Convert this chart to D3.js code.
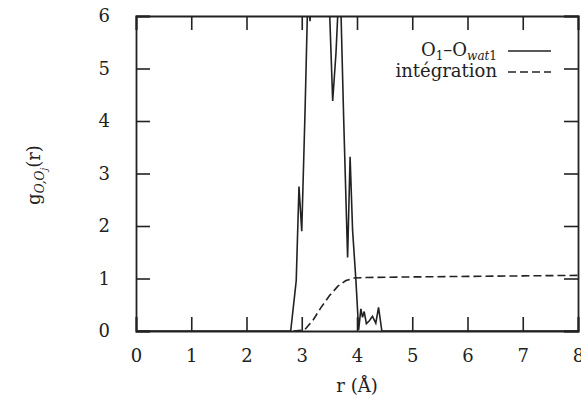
<!DOCTYPE html>
<html>
<head>
<meta charset="utf-8">
<script src="https://cdn.jsdelivr.net/npm/d3@7"></script>
<style>
  body { margin: 0; background: #fff; }
  svg { display: block; }
  svg text { font-family: 'DejaVu Serif', serif; fill: #222; }
</style>
</head>
<body>
<div id="chart"></div>
<script>
// g(r) for O1 - Owat1
const gR = [0, 2.80, 2.90, 2.95, 3.00, 3.06, 3.11, 3.15, 3.19, 3.30, 3.45, 3.50, 3.56, 3.62, 3.69, 3.76, 3.83, 3.875, 3.92, 3.98, 4.03, 4.07, 4.10, 4.13, 4.17, 4.22, 4.28, 4.34, 4.39, 4.45, 8]
const gVal = [0, 0, 0.96, 2.75, 1.90, 4.2, 6.4, 5.9, 6.8, 8.0, 7.2, 6.2, 4.38, 5.3, 6.9, 4.0, 1.40, 3.32, 1.92, 0.97, 0.02, 0.42, 0.26, 0.37, 0.14, 0.19, 0.28, 0.15, 0.45, 0, 0]

// running integral
const intR = [2.85, 3.05, 3.2, 3.35, 3.5, 3.65, 3.8, 3.95, 4.2, 5, 6, 7, 8]
const intVal = [0, 0.02, 0.2, 0.45, 0.67, 0.85, 0.96, 1.01, 1.02, 1.03, 1.04, 1.05, 1.06]

const xTicks = [0, 1, 2, 3, 4, 5, 6, 7, 8]
const yTicks = [0, 1, 2, 3, 4, 5, 6]

const width = 581
const height = 412
const margin = { top: 16, left: 136, right: 3, bottom: 81 }
const ink = '#222'
const serif = "'DejaVu Serif', serif"

const svg = d3
  .select('#chart')
  .append('svg')
  .attr('width', width)
  .attr('height', height)
  .attr('font-family', serif)

const x = d3.scaleLinear().domain([0, 8]).range([margin.left, width - margin.right])
const y = d3.scaleLinear().domain([0, 6]).range([height - margin.bottom, margin.top])

svg
  .append('clipPath')
  .attr('id', 'plot-clip')
  .append('rect')
  .attr('x', x(0))
  .attr('y', y(6))
  .attr('width', x(8) - x(0))
  .attr('height', y(0) - y(6))

const tick = 14

// axes, ticks on all four sides pointing inwards
svg
  .append('g')
  .attr('transform', `translate(0,${y(0)})`)
  .call(d3.axisBottom(x).tickValues(xTicks).tickSize(-tick).tickPadding(tick + 4).tickFormat(d3.format('d')))
svg
  .append('g')
  .attr('transform', `translate(0,${y(6)})`)
  .call(d3.axisTop(x).tickValues(xTicks).tickSize(-tick).tickFormat(''))
svg
  .append('g')
  .attr('transform', `translate(${x(0)},0)`)
  .call(d3.axisLeft(y).tickValues(yTicks).tickSize(-tick).tickPadding(tick + 12).tickFormat(d3.format('d')))
svg
  .append('g')
  .attr('transform', `translate(${x(8)},0)`)
  .call(d3.axisRight(y).tickValues(yTicks).tickSize(-tick).tickFormat(''))

svg.selectAll('g').attr('font-family', serif)
svg.selectAll('.domain').attr('stroke', ink).attr('stroke-width', 1.8)
svg.selectAll('.tick line').attr('stroke', ink).attr('stroke-width', 1.6)
svg.selectAll('.tick text').attr('font-size', 18).attr('fill', ink)

const line = d3.line().x(d => x(d[0])).y(d => y(d[1]))

const plot = svg.append('g').attr('clip-path', 'url(#plot-clip)')

plot
  .append('path')
  .datum(d3.zip(intR, intVal))
  .attr('d', line)
  .attr('fill', 'none')
  .attr('stroke', ink)
  .attr('stroke-width', 1.6)
  .attr('stroke-dasharray', '8,4')

plot
  .append('path')
  .datum(d3.zip(gR, gVal))
  .attr('d', line)
  .attr('fill', 'none')
  .attr('stroke', ink)
  .attr('stroke-width', 1.6)

// legend
const legend = svg.append('g').attr('font-size', 18)
const lg1 = legend.append('text').attr('x', 497).attr('y', 56).attr('text-anchor', 'end')
lg1.append('tspan').text('O')
lg1.append('tspan').attr('font-size', 12).attr('dy', 4).text('1')
lg1.append('tspan').attr('dy', -4).text('–O')
lg1.append('tspan').attr('font-size', 12).attr('dy', 4).attr('font-style', 'italic').text('wat')
lg1.append('tspan').attr('font-size', 12).text('1')
legend.append('line')
  .attr('x1', 508).attr('x2', 551).attr('y1', 51).attr('y2', 51)
  .attr('stroke', ink).attr('stroke-width', 1.6)

legend.append('text').attr('x', 497).attr('y', 77).attr('text-anchor', 'end').text('intégration')
legend.append('line')
  .attr('x1', 508).attr('x2', 551).attr('y1', 72).attr('y2', 72)
  .attr('stroke', ink).attr('stroke-width', 1.6)
  .attr('stroke-dasharray', '8,4')

// axis titles
svg.append('text')
  .attr('x', 357).attr('y', 392)
  .attr('text-anchor', 'middle')
  .attr('font-size', 18)
  .text('r (Å)')

const yl = svg.append('text')
  .attr('transform', 'translate(40,175) rotate(-90)')
  .attr('text-anchor', 'middle')
  .attr('font-size', 18)
yl.append('tspan').text('g')
yl.append('tspan').attr('font-size', 12).attr('dy', 4).attr('font-style', 'italic').text('O,O')
yl.append('tspan').attr('font-size', 9).attr('dy', 3).attr('font-style', 'italic').text('j')
yl.append('tspan').attr('dy', -7).text('(r)')
</script>
</body>
</html>
